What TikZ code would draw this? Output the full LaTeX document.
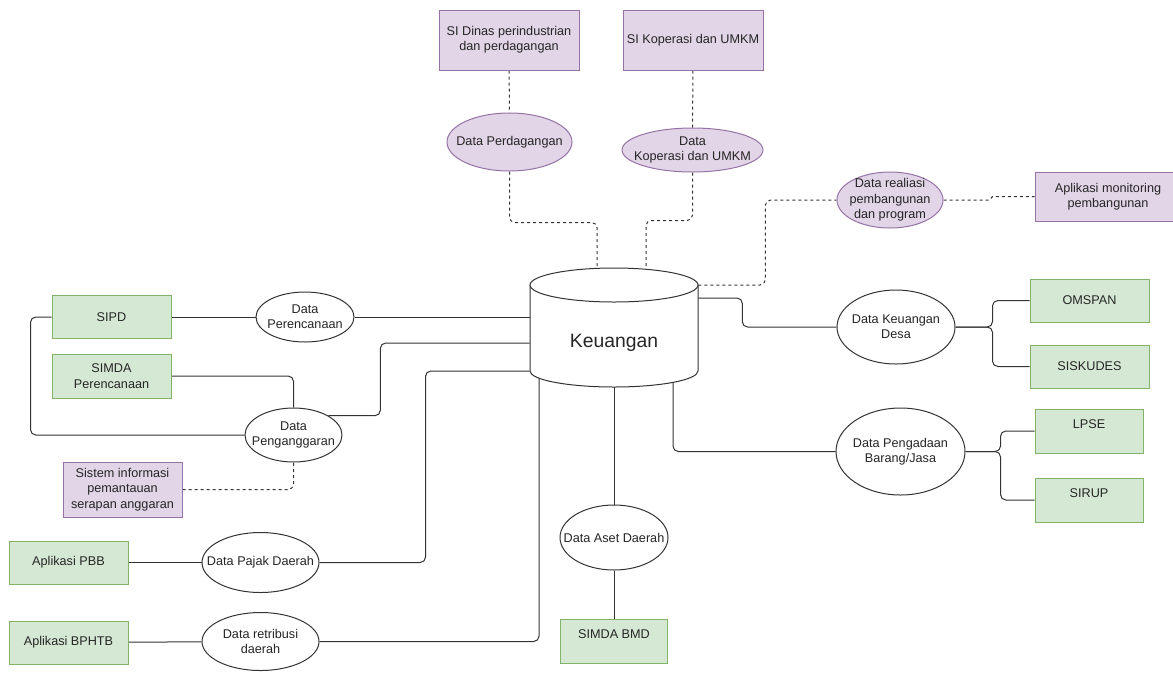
\documentclass[tikz,border=0pt]{standalone}
\usepackage{fontspec}
\setmainfont{Liberation Sans}
\usetikzlibrary{shapes.geometric,positioning}
\definecolor{appfill}{HTML}{D5E8D4}
\definecolor{appline}{HTML}{82B366}
\definecolor{sysfill}{HTML}{E1D5E7}
\definecolor{sysline}{HTML}{9673A6}
\pgfdeclarelayer{back}
\pgfsetlayers{back,main}

\begin{document}
\begin{tikzpicture}[
    x=0.75pt, y=-0.75pt,
    every node/.style={font=\fontsize{9.5}{11.5}\selectfont, text=black!85},
    appbox/.style={rectangle, draw=appline, fill=appfill, line width=0.75pt, align=center, inner sep=0pt, minimum width=89.25pt, minimum height=32.25pt},
    sysbox/.style={rectangle, draw=sysline, fill=sysfill, line width=0.75pt, align=center, inner sep=0pt},
    datum/.style={ellipse, draw=black!80, fill=white, line width=0.75pt, align=center, inner xsep=-10pt, inner ysep=-3pt},
    sysdatum/.style={datum, draw=sysline, fill=sysfill},
    raised/.style={text depth=10.5pt},
    wire/.style={draw=black!80, line width=0.75pt, rounded corners=4pt},
    dwire/.style={wire, dash pattern=on 2.25pt off 2.25pt},
]
\useasboundingbox (0,0) rectangle (1173,672);
\draw[line width=0.75pt, draw=black!80, fill=white] (530,285) -- (530,371) .. controls (530,379.8) and (567.6,387) .. (614,387) .. controls (660.4,387) and (698,379.8) .. (698,371) -- (698,285);
\draw[line width=0.75pt, draw=black!80, fill=white] (614,285) ellipse [x radius=63pt, y radius=12.75pt];
\node[minimum width=126pt, minimum height=60pt, inner sep=0pt, font=\fontsize{14.5}{17}\selectfont] (keu) at (614,343) {Keuangan};

\node[sysbox, minimum width=105pt, minimum height=45pt] (sidinas) at (509,40) {SI Dinas perindustrian\\dan perdagangan};
\node[sysbox, minimum width=105pt, minimum height=45pt, right=32.25pt of sidinas] (sikop) {SI Koperasi dan UMKM};
\node[sysdatum, minimum width=93.75pt, minimum height=43.5pt] (dagang) at (509.5,142) {Data Perdagangan};
\node[sysdatum, minimum width=105.75pt, minimum height=33pt] (kop) at (692.5,150) {Data\\Koperasi dan UMKM};
\node[sysdatum, minimum width=79.5pt, minimum height=42pt] (real) at (890,200) {Data realiasi\\pembangunan\\dan program};
\node[sysbox, minimum width=109.5pt, minimum height=36.75pt] (monit) at (1108,196.5) {Aplikasi monitoring\\pembangunan};

\node[appbox] (sipd) at (111.5,317) {SIPD};
\node[datum, minimum width=73.5pt, minimum height=37.5pt] (perenc) at (305,317) {Data\\Perencanaan};
\node[appbox, minimum height=33pt] (simdap) at (111.5,376) {SIMDA\\Perencanaan};
\node[datum, minimum width=72.75pt, minimum height=40.5pt] (angg) at (293.5,435) {Data\\Penganggaran};
\node[sysbox, minimum width=89.25pt, minimum height=41.25pt] (sipem) at (122.5,489.5) {Sistem informasi\\pemantauan\\serapan anggaran};
\node[appbox] (pbb) at (68.5,562.5) {Aplikasi PBB};
\node[datum, minimum width=87.75pt, minimum height=45pt] (pajak) at (260.5,562.5) {Data Pajak Daerah};
\node[appbox, below=27pt of pbb] (bphtb) {Aplikasi BPHTB};
\node[datum, minimum width=87.75pt, minimum height=43.5pt] (ret) at (260.5,641.5) {Data retribusi\\daerah};
\node[datum, minimum width=81pt, minimum height=48.75pt] (aset) at (614,537.5) {Data Aset Daerah};
\node[appbox, raised, minimum width=80.25pt, minimum height=33pt] (bmd) at (614,641) {SIMDA BMD};

\node[datum, minimum width=88.5pt, minimum height=55.5pt] (desa) at (896,327) {Data Keuangan\\Desa};
\node[appbox] (omspan) at (1089.5,300.5) {OMSPAN};
\node[appbox, below=16.5pt of omspan] (siskudes) {SISKUDES};
\node[datum, minimum width=96.75pt, minimum height=65.25pt] (pengad) at (900.5,451.5) {Data Pengadaan\\Barang/Jasa};
\node[appbox, raised, minimum width=81pt, minimum height=33pt] (lpse) at (1089,431) {LPSE};
\node[appbox, raised, minimum width=81pt, minimum height=33pt, below=18pt of lpse] (sirup) {SIRUP};

\begin{pgfonlayer}{back}
\draw[wire] (sipd) -- (perenc);
\draw[wire] (perenc.east) -- (perenc.east -| keu.west);
\draw[wire] (sipd.west) -- ++(-21,0) |- (angg.west);
\draw[wire] (simdap.east) -| (angg.north);
\draw[wire] (angg.29) -- ++(52,0) |- (keu.west);
\draw[wire] (pbb) -- (pajak);
\draw[wire] (pajak.east) -- ++(106,0) |- ([yshift=-21pt]keu.west);
\draw[wire] (bphtb) -- (ret);
\draw[wire] (ret.east) -| ([xshift=-56.25pt]keu.center);
\draw[wire] (keu) -- (aset);
\draw[wire] (aset) -- (bmd);
\draw[wire] ([xshift=44.25pt]keu.center) |- (pengad.west);
\draw[wire] (pengad.east) -- ++(35,0) |- (lpse.west);
\draw[wire] (pengad.east) -- ++(35,0) |- (sirup.west);
\draw[wire] ([yshift=33.75pt]keu.east) -- ++(44,0) |- (desa.west);
\draw[wire] (desa.east) -- ++(37,0) |- (omspan.west);
\draw[wire] (desa.east) -- ++(37,0) |- (siskudes.west);
\draw[dwire] (sidinas) -- (dagang);
\draw[dwire] (dagang.south) -- ++(0,51) -| ([xshift=-12.75pt]keu.center);
\draw[dwire] (sikop) -- (kop);
\draw[dwire] (kop.south) -- ++(0,48) -| ([xshift=24pt]keu.center);
\draw[dwire] ([yshift=43.5pt]keu.east) -- ++(67,0) |- (real.west);
\draw[dwire, rounded corners=0pt] (real.east) -- ++(46,0) -- ++(3,-3.5) -- (monit.west);
\draw[dwire] (sipem.east) -| (angg.south);
\end{pgfonlayer}
\end{tikzpicture}
\end{document}
